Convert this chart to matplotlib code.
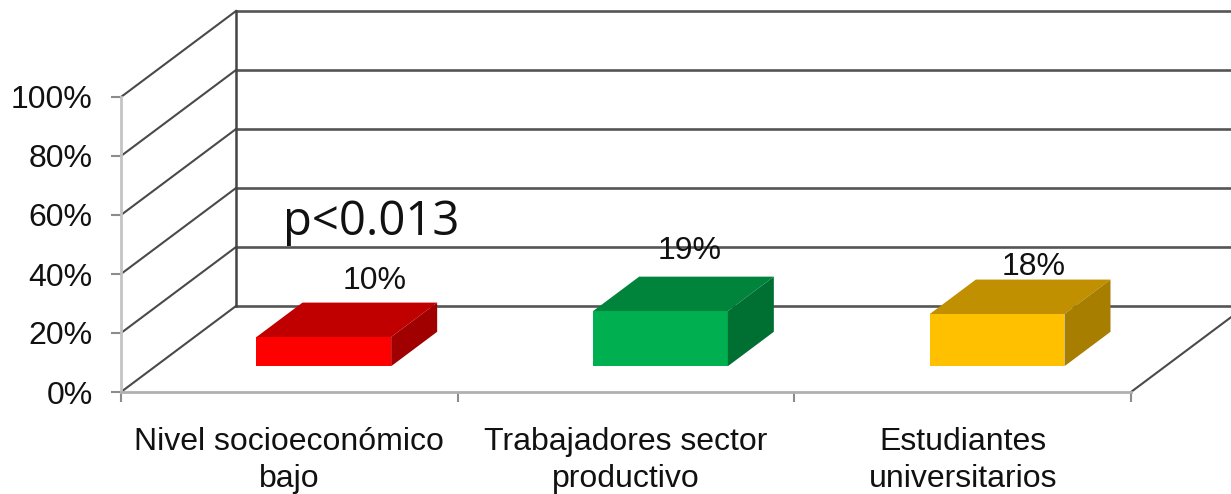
import matplotlib
matplotlib.use("Agg")
import matplotlib.pyplot as plt
from matplotlib.patches import Polygon

# Data
categories = ["Nivel socioeconómico\nbajo", "Trabajadores sector\nproductivo", "Estudiantes\nuniversitarios"]
values = [9.9, 18.7, 17.7]
value_labels = ["10%", "19%", "18%"]
y_ticks = [0, 20, 40, 60, 80, 100]
y_tick_labels = ["0%", "20%", "40%", "60%", "80%", "100%"]

front_colors = ["#FF0000", "#00B050", "#FFC000"]
top_colors = ["#C00000", "#00843C", "#C09000"]
side_colors = ["#A00000", "#006F32", "#A87E00"]
# label offset from the top back edge of each box, in pixels
label_dx = [5, -17, -10]
label_dy = [22, 26, 13]

# how far the back wall sits from the front plane, in data units
depth_x = 115 / 336.67
depth_y = 86 / 2.95
bar_start, bar_end = 0.3, 0.7
bar_gap = 0.3


def project(x, depth, v):
    return x + depth * depth_x, v + depth * depth_y


plt.rcParams["font.family"] = ["Liberation Sans", "DejaVu Sans"]

fig = plt.figure(figsize=(12.31, 4.94), dpi=100)
ax = fig.add_axes([121 / 1231, (494 - 392) / 494, 1010 / 1231, 295 / 494])
ax.set_xlim(0, 3)
ax.set_ylim(0, 100)
ax.patch.set_alpha(0)

# back wall gridlines + diagonals on the side wall
for t in y_ticks:
    x0, y0 = project(0, 0, t)
    x1, y1 = project(0, 1, t)
    x2, y2 = project(3, 1, t)
    ax.plot([x0, x1], [y0, y1], color="#4A4A4A", lw=1.5, clip_on=False, zorder=1)
    ax.plot([x1, x2], [y1, y2], color="#555555", lw=1.9, clip_on=False, zorder=1)

x1, y1 = project(0, 1, 0)
x2, y2 = project(0, 1, 100)
ax.plot([x1, x2], [y1, y2], color="#444444", lw=1.8, clip_on=False, zorder=1)
x0, y0 = project(3, 0, 0)
x1, y1 = project(3, 1, 0)
ax.plot([x0, x1], [y0, y1], color="#4A4A4A", lw=1.5, clip_on=False, zorder=1)

# the boxes
for i, v in enumerate(values):
    left = i + bar_gap
    right = i + 1 - bar_gap
    front = [project(left, bar_start, 0), project(right, bar_start, 0),
             project(right, bar_start, v), project(left, bar_start, v)]
    top = [project(left, bar_start, v), project(right, bar_start, v),
           project(right, bar_end, v), project(left, bar_end, v)]
    side = [project(right, bar_start, 0), project(right, bar_end, 0),
            project(right, bar_end, v), project(right, bar_start, v)]
    ax.add_patch(Polygon(front, facecolor=front_colors[i], edgecolor="none", clip_on=False, zorder=3))
    ax.add_patch(Polygon(top, facecolor=top_colors[i], edgecolor="none", clip_on=False, zorder=3))
    ax.add_patch(Polygon(side, facecolor=side_colors[i], edgecolor="none", clip_on=False, zorder=3))

    lx, ly = project(i + 0.5, bar_end, v)
    ax.annotate(value_labels[i], (lx, ly), xytext=(label_dx[i] * 0.72, label_dy[i] * 0.72),
                textcoords="offset points", ha="center", va="center", fontsize=23,
                color="#111111", zorder=4, annotation_clip=False)

fig.text(371 / 1231, 1 - 222 / 494, "p<0.013", fontsize=34, family="Open Sans",
         ha="center", va="center", color="#111111")

# axes
for s in ["top", "right"]:
    ax.spines[s].set_visible(False)
ax.spines["left"].set_color("#C4C4C4")
ax.spines["bottom"].set_color("#B0B0B0")
ax.spines["left"].set_linewidth(2)
ax.spines["bottom"].set_linewidth(2)

ax.set_yticks(y_ticks)
ax.set_yticklabels(y_tick_labels, fontsize=23, color="#111111")
ax.tick_params(axis="y", length=7.5, width=1.5, color="#8C8C8C", pad=13)

ax.set_xticks([0, 1, 2, 3])
ax.set_xticklabels([])
ax.set_xticks([0.5, 1.5, 2.5], minor=True)
ax.set_xticklabels(categories, minor=True, fontsize=23, color="#111111", linespacing=1.28)
ax.tick_params(axis="x", which="major", length=7.5, width=1.5, color="#8C8C8C")
ax.tick_params(axis="x", which="minor", length=0, pad=25.5)

fig.savefig("out.png", dpi=100)
